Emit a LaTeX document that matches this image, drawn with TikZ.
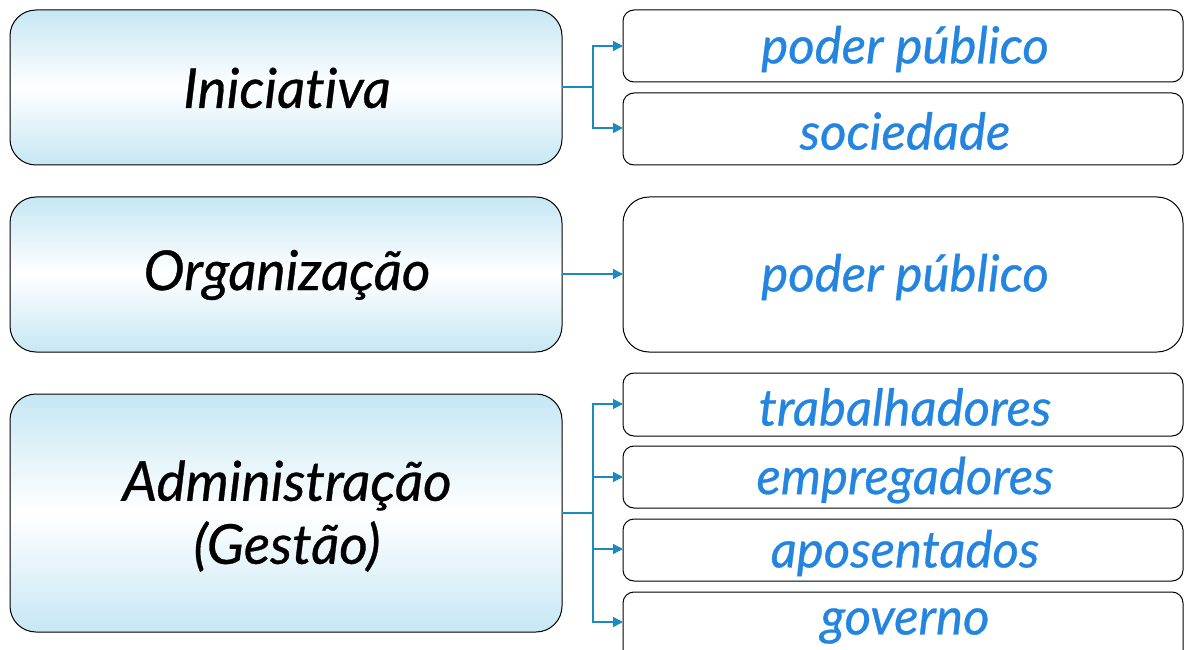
\documentclass[tikz,border=0pt]{standalone}
\usepackage{fontspec}
\setmainfont{Lato}[Ligatures=NoCommon, ItalicFeatures={FakeBold=0.6}]
\usetikzlibrary{arrows.meta}
\definecolor{lb}{HTML}{C6E7F4}
\definecolor{arr}{HTML}{1A8BBF}
\definecolor{txtb}{HTML}{2385E0}
\tikzset{
  leftbox/.style={draw=black, line width=1pt, rounded corners=26pt, top color=lb, bottom color=lb, middle color=white, shading angle=0},
  rbox/.style={draw=black, line width=1pt, fill=white, rounded corners=11pt},
  rbig/.style={draw=black, line width=1pt, fill=white, rounded corners=26pt},
  ltext/.style={font=\fontsize{55}{63}\selectfont\itshape, text=black, align=center},
  rtext/.style={font=\fontsize{51}{60}\selectfont\itshape, text=txtb},
  conn/.style={draw=arr, line width=1.5pt},
  arrow/.style={conn, -{Triangle[length=10pt,width=10pt]}},
}
\begin{document}
\begin{tikzpicture}[x=1pt,y=-1pt]
\useasboundingbox (0,0) rectangle (1184,650);
\clip (0,0) rectangle (1184,650);
% left boxes
\path[leftbox] (10,10) rectangle (562,165);
\node[ltext] (ini) at (287,88) {Iniciativa};
\path[leftbox] (10,197) rectangle (562,352);
\node[ltext] (org) at (287,275) {Organização};
\path[leftbox] (10,394) rectangle (562,632);
\node[ltext] (adm) at (287,516) {Administração\\(Gestão)};
% right boxes
\path[rbox] (623,10) rectangle (1183,82);
\node[rtext] (pp1) at (905,49) {poder público};
\path[rbox] (623,93) rectangle (1183,165);
\node[rtext] (soc) at (905,131) {sociedade};
\path[rbig] (623,197) rectangle (1183,352);
\node[rtext] (pp2) at (905,277) {poder público};
\path[rbox] (623,373) rectangle (1183,436);
\node[rtext] (tra) at (905,407) {trabalhadores};
\path[rbox] (623,446) rectangle (1183,508);
\node[rtext] (emp) at (905,480) {empregadores};
\path[rbox] (623,519) rectangle (1183,581);
\node[rtext] (apo) at (905,553) {aposentados};
\path[rbox] (623,592) rectangle (1183,670);
\node[rtext] (gov) at (905,626) {governo};
% connectors
\coordinate (a1) at (562,87);
\coordinate (b1) at (593,87);
\draw[conn] (a1) -- (b1);
\draw[arrow] (b1) |- (623,46);
\draw[arrow] (b1) |- (623,128);
\coordinate (a2) at (562,274);
\draw[arrow] (a2) -- (623,274);
\coordinate (a3) at (562,513);
\coordinate (b3) at (593,513);
\draw[conn] (a3) -- (b3);
\draw[arrow] (b3) |- (623,404);
\draw[arrow] (b3) |- (623,477);
\draw[arrow] (b3) |- (623,549);
\draw[arrow] (b3) |- (623,622);
\end{tikzpicture}
\end{document}
